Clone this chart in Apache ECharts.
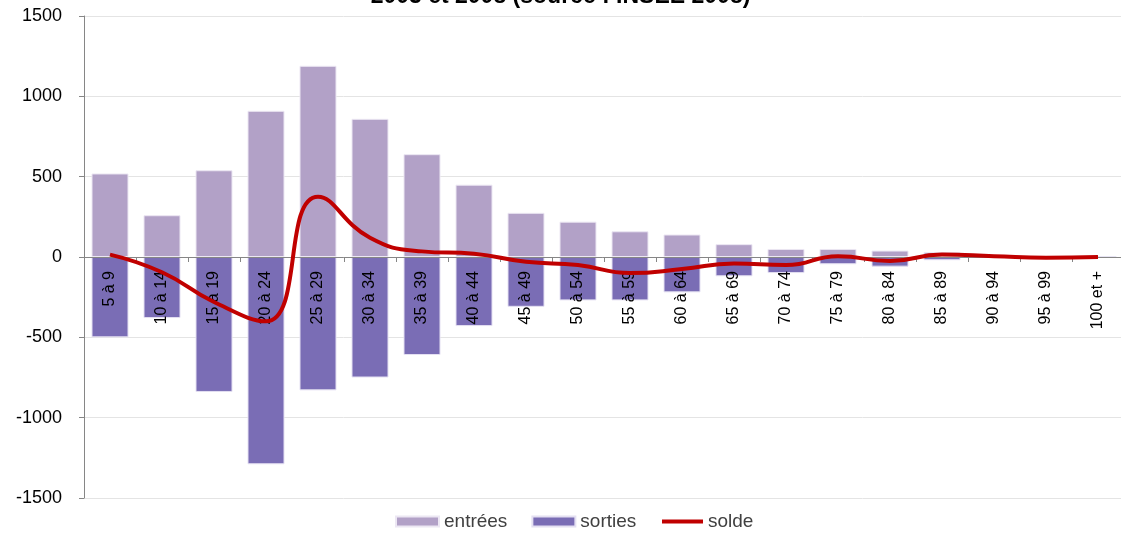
<!DOCTYPE html>
<html>
<head>
<meta charset="utf-8">
<script src="https://cdn.jsdelivr.net/npm/echarts@6/dist/echarts.min.js"></script>
<style>
  html, body { margin: 0; padding: 0; background: #fff; }
  #chart { width: 1121px; height: 534px; }
</style>
</head>
<body>
<div id="chart"></div>
<script>
  // tranches d'âge
  var categories = ['5 à 9', '10 à 14', '15 à 19', '20 à 24', '25 à 29', '30 à 34', '35 à 39',
    '40 à 44', '45 à 49', '50 à 54', '55 à 59', '60 à 64', '65 à 69', '70 à 74', '75 à 79',
    '80 à 84', '85 à 89', '90 à 94', '95 à 99', '100 et +'];
  var entrees = [520, 260, 540, 910, 1190, 860, 640, 450, 275, 220, 160, 140, 80, 50, 50, 40, 30, 8, 3, 5];
  var sorties = [-500, -380, -840, -1290, -830, -750, -610, -430, -310, -270, -270, -220, -120, -100, -45, -60, -20, -5, -3, -2];
  var solde = [15, -95, -280, -400, 375, 120, 35, 20, -30, -50, -100, -75, -40, -50, 5, -25, 15, 5, -5, 0];
  var yTicks = { min: -1500, max: 1500, step: 500 };

  var font = 'Liberation Sans';
  var chart = echarts.init(document.getElementById('chart'));

  // hauteur de la zone de tracé : 534 - 16 - 36 = 482, le zéro est au milieu
  var plotH = 482;

  chart.setOption({
    animation: false,
    title: {
      text: '2003 et 2008 (source : INSEE 2008)',
      left: 'center',
      top: -20,
      textStyle: { fontFamily: font, fontSize: 23, fontWeight: 'bold', color: '#000' }
    },
    legend: [
      {
        left: 390,
        bottom: -2,
        itemWidth: 43,
        itemHeight: 10,
        itemGap: 24,
        textStyle: { fontFamily: font, fontSize: 19, color: '#404040' },
        data: [
          { name: 'entrées', icon: 'rect' },
          { name: 'sorties', icon: 'rect' }
        ]
      },
      {
        left: 657,
        bottom: -2,
        itemWidth: 41,
        itemHeight: 4,
        textStyle: { fontFamily: font, fontSize: 19, color: '#404040' },
        data: [{ name: 'solde', icon: 'rect' }]
      }
    ],
    grid: { left: 84, right: -3, top: 16, bottom: 36, outerBoundsMode: 'none' },
    xAxis: {
      type: 'category',
      data: categories,
      z: 3,
      offset: -plotH * (-yTicks.min) / (yTicks.max - yTicks.min),
      axisLine: { onZero: false, lineStyle: { color: '#868686' } },
      axisTick: { show: true, length: 5, alignWithLabel: false, lineStyle: { color: '#868686' } },
      axisLabel: {
        rotate: 90, interval: 0, margin: 14, hideOverlap: false,
        fontFamily: font, fontSize: 16, color: '#000'
      }
    },
    yAxis: {
      type: 'value',
      min: yTicks.min,
      max: yTicks.max,
      interval: yTicks.step,
      axisLine: { show: true, lineStyle: { color: '#868686' } },
      axisTick: { show: true, length: 5, lineStyle: { color: '#868686' } },
      axisLabel: { fontFamily: font, fontSize: 18, color: '#000', margin: 22, formatter: function (v) { return String(v); } },
      splitLine: { lineStyle: { color: '#e4e4e4' } }
    },
    series: [
      {
        name: 'entrées',
        type: 'bar',
        stack: 'flux',
        barWidth: 37,
        itemStyle: { color: '#b2a1c7', borderColor: '#ece7f3', borderWidth: 1 },
        data: entrees
      },
      {
        name: 'sorties',
        type: 'bar',
        stack: 'flux',
        barWidth: 37,
        itemStyle: { color: '#7a6db5', borderColor: '#e4e0f2', borderWidth: 1 },
        data: sorties
      },
      {
        name: 'solde',
        type: 'line',
        smooth: 0.5,
        symbol: 'none',
        lineStyle: { color: '#c00000', width: 4 },
        itemStyle: { color: '#c00000' },
        data: solde,
        z: 6
      }
    ]
  });
</script>
</body>
</html>
